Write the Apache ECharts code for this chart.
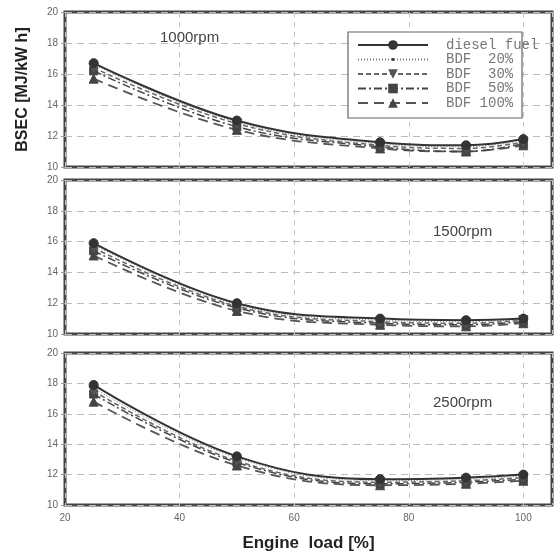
<!DOCTYPE html>
<html>
<head>
<meta charset="utf-8">
<script src="https://cdn.jsdelivr.net/npm/echarts@6/dist/echarts.min.js"></script>
<style>html,body{margin:0;padding:0;background:#fff}#c{width:554px;height:558px}</style>
</head>
<body>
<div id="c"></div>
<script>
// ---- data ----
const loads = [25, 50, 75, 90, 100];
const seriesNames = ['diesel fuel', 'BDF  20%', 'BDF  30%', 'BDF  50%', 'BDF 100%'];
const panelLabels = ['1000rpm', '1500rpm', '2500rpm'];
const xTicks = [20, 40, 60, 80, 100];
const yTicks = [10, 12, 14, 16, 18, 20];

// 1000 rpm
const rpm1000_diesel = [16.7, 13.0, 11.6, 11.4, 11.8];
const rpm1000_bdf20  = [16.6, 12.9, 11.5, 11.3, 11.7];
const rpm1000_bdf30  = [16.4, 12.8, 11.4, 11.2, 11.6];
const rpm1000_bdf50  = [16.2, 12.6, 11.3, 11.0, 11.5];
const rpm1000_bdf100 = [15.7, 12.4, 11.2, 11.0, 11.4];
// 1500 rpm
const rpm1500_diesel = [15.9, 12.0, 11.0, 10.9, 11.0];
const rpm1500_bdf20  = [15.8, 11.9, 10.9, 10.8, 10.95];
const rpm1500_bdf30  = [15.6, 11.8, 10.8, 10.7, 10.9];
const rpm1500_bdf50  = [15.4, 11.7, 10.7, 10.6, 10.8];
const rpm1500_bdf100 = [15.1, 11.5, 10.6, 10.5, 10.7];
// 2500 rpm
const rpm2500_diesel = [17.9, 13.2, 11.7, 11.8, 12.0];
const rpm2500_bdf20  = [17.7, 13.1, 11.6, 11.7, 11.9];
const rpm2500_bdf30  = [17.5, 12.9, 11.5, 11.6, 11.8];
const rpm2500_bdf50  = [17.3, 12.8, 11.4, 11.5, 11.7];
const rpm2500_bdf100 = [16.8, 12.6, 11.3, 11.4, 11.6];

const panels = [
  [rpm1000_diesel, rpm1000_bdf20, rpm1000_bdf30, rpm1000_bdf50, rpm1000_bdf100],
  [rpm1500_diesel, rpm1500_bdf20, rpm1500_bdf30, rpm1500_bdf50, rpm1500_bdf100],
  [rpm2500_diesel, rpm2500_bdf20, rpm2500_bdf30, rpm2500_bdf50, rpm2500_bdf100]
];

// ---- styles ----
const smallDot = 'path://M0 0M10 10M3.5 5a1.5 1.5 0 1 0 3 0a1.5 1.5 0 1 0 -3 0Z';
const styles = [
  {symbol:'circle', symbolSize:9, rotate:0, line:{color:'#333', width:2, type:'solid'}, fill:'#333'},
  {symbol:smallDot, symbolSize:10, rotate:0, line:{color:'#777', width:1, type:[1,2]}, fill:'#333'},
  {symbol:'triangle', symbolSize:9, rotate:180, line:{color:'#666', width:1.5, type:[5,3]}, fill:'#555'},
  {symbol:'rect', symbolSize:8, rotate:0, line:{color:'#444', width:1.5, type:[8,3,2,3]}, fill:'#444'},
  {symbol:'triangle', symbolSize:9, rotate:0, line:{color:'#555', width:1.8, type:[10,6]}, fill:'#444'}
];

const grids = [
  {left:65, top:12, width:487, height:155},
  {left:65, top:180, width:487, height:154},
  {left:65, top:353, width:487, height:152}
];

const font = 'Liberation Sans, Arial, sans-serif';

const xAxes = grids.map((g, i) => ({
  type:'value', gridIndex:i, min:20, max:105, interval:20,
  axisLine:{show:false},
  axisTick:{show:false},
  axisLabel:{show:i===2, fontSize:10, color:'#666', fontFamily:font, margin:8, showMaxLabel:false},
  splitLine:{show:true, lineStyle:{color:'#c4c4c4', type:[5,5], width:1}},
  name: i===2 ? 'Engine  load [%]' : '',
  nameLocation:'middle', nameGap:30,
  nameTextStyle:{fontSize:17, fontWeight:'bold', color:'#222', fontFamily:font}
}));

const yAxes = grids.map((g, i) => ({
  type:'value', gridIndex:i, min:10, max:20, interval:2,
  axisLine:{show:false},
  axisTick:{show:true, length:4, lineStyle:{color:'#999'}},
  axisLabel:{fontSize:10, color:'#666', fontFamily:font, margin:7},
  splitLine:{show:true, lineStyle:{color:'#bbb', type:[7,5], width:1}},
  name: i===0 ? 'BSEC [MJ/kW h]' : '',
  nameLocation:'middle', nameGap:34,
  nameTextStyle:{fontSize:16, fontWeight:'bold', color:'#222', fontFamily:font}
}));

const series = [];
panels.forEach((p, gi) => {
  p.forEach((vals, si) => {
    const st = styles[si];
    series.push({
      type:'line', name:seriesNames[si], xAxisIndex:gi, yAxisIndex:gi,
      data: loads.map((x, k) => [x, vals[k]]),
      smooth:0.4,
      symbol:st.symbol, symbolSize:st.symbolSize, symbolRotate:st.rotate,
      showAllSymbol:true,
      lineStyle:st.line,
      itemStyle:{color:st.fill, borderColor:st.fill},
      z: 10 - si
    });
  });
});

const titles = [
  {text:panelLabels[0], left:160, top:30},
  {text:panelLabels[1], left:433, top:224},
  {text:panelLabels[2], left:433, top:395}
].map(t => Object.assign(t, {padding:0, textStyle:{fontSize:15, fontWeight:'normal', color:'#444', fontFamily:font}}));

const option = {
  animation:false,
  backgroundColor:'#fff',
  grid: grids.map(g => Object.assign({show:true, borderColor:'#444', borderWidth:3, backgroundColor:'transparent'}, g)),
  xAxis:xAxes,
  yAxis:yAxes,
  title:titles,
  graphic:[{type:'rect', shape:{x:348, y:32, width:174, height:86}, style:{fill:'#fff', stroke:'#666', lineWidth:1.2}, z:20}],
  legend:{
    orient:'vertical', left:357, top:38, padding:0, z:30,
    itemWidth:70, itemHeight:12, itemGap:0.5,
    data:seriesNames,
    textStyle:{fontFamily:'Liberation Mono, DejaVu Sans Mono, monospace', fontSize:14, color:'#777', padding:[0,0,0,13], lineHeight:12}
  },
  series:series
};

const chart = echarts.init(document.getElementById('c'), null, {renderer:'canvas'});
chart.setOption(option);
</script>
</body>
</html>
